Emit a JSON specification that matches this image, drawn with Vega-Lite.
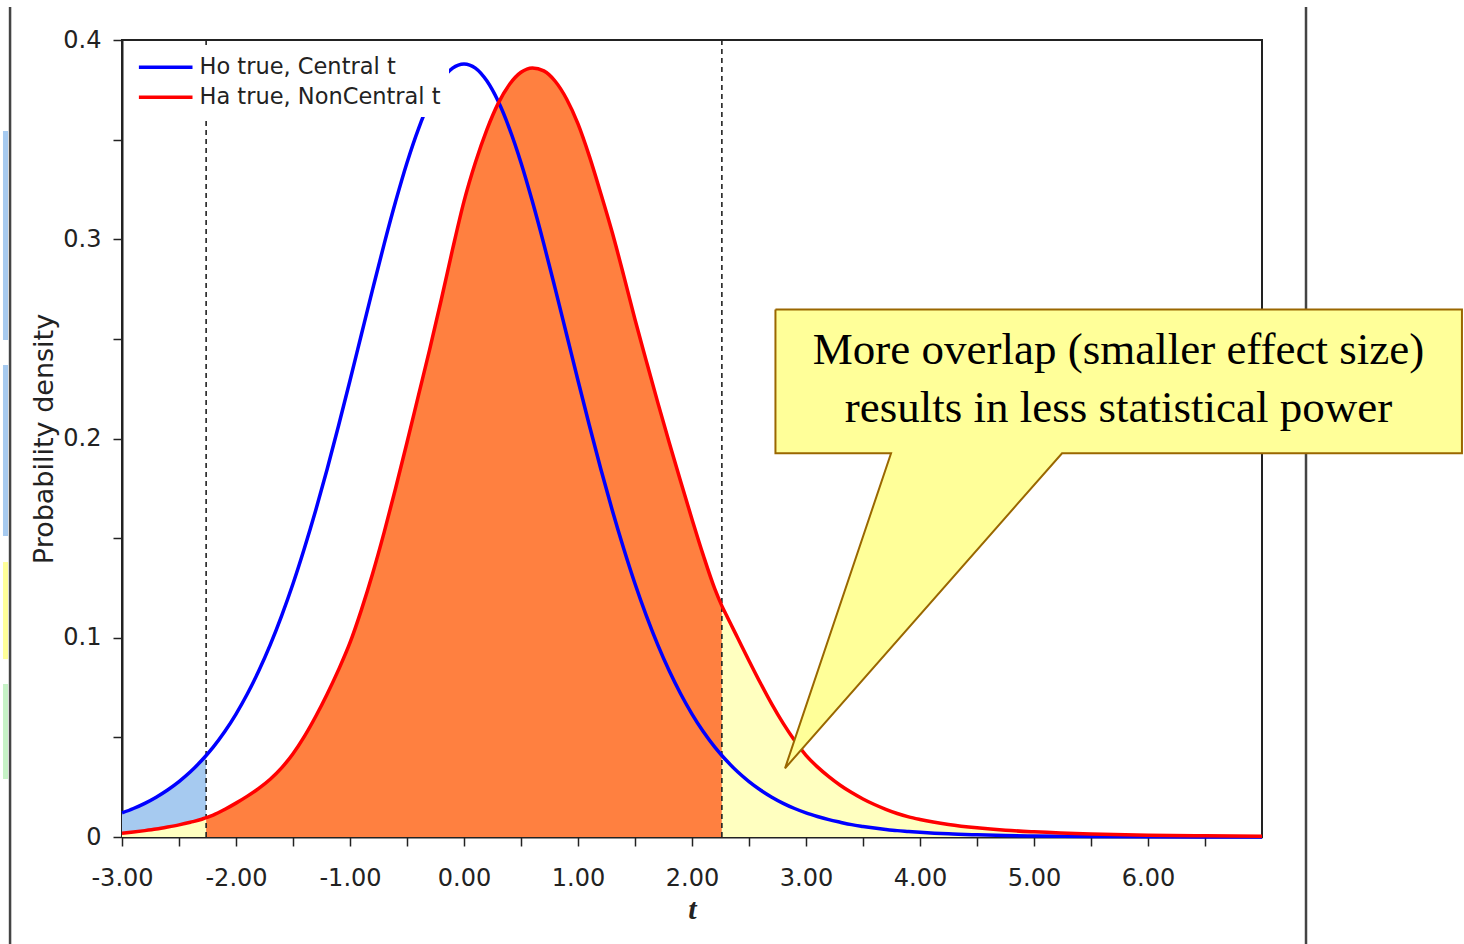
{
  "$schema": "https://vega.github.io/schema/vega-lite/v6.json",
  "width": 1140,
  "height": 797,
  "autosize": {"type": "none"},
  "padding": {"left": 122, "top": 40, "right": 202, "bottom": 107},
  "background": "#ffffff",
  "config": {
    "view": {"stroke": "#222222", "strokeWidth": 2},
    "axis": {
      "zindex": 1,
      "grid": false,
      "domainColor": "#222222",
      "domainWidth": 2,
      "tickColor": "#222222",
      "tickWidth": 1.5,
      "tickSize": 9,
      "labelFont": "DejaVu Sans",
      "labelFontSize": 24,
      "labelColor": "#222222",
      "titleColor": "#222222",
      "labelOverlap": false,
      "labelFlush": false
    }
  },
  "datasets": {
    "dens": [
      {"t": -3.0, "ho": 0.0121, "ha": 0.0019},
      {"t": -2.9, "ho": 0.0143, "ha": 0.0025},
      {"t": -2.8, "ho": 0.0169, "ha": 0.0032},
      {"t": -2.7, "ho": 0.0200, "ha": 0.0040},
      {"t": -2.6, "ho": 0.0236, "ha": 0.0050},
      {"t": -2.5, "ho": 0.0278, "ha": 0.0061},
      {"t": -2.4, "ho": 0.0327, "ha": 0.0074},
      {"t": -2.3, "ho": 0.0385, "ha": 0.0089},
      {"t": -2.262, "ho": 0.0409, "ha": 0.0097},
      {"t": -2.2, "ho": 0.0451, "ha": 0.0110},
      {"t": -2.1, "ho": 0.0528, "ha": 0.0138},
      {"t": -2.0, "ho": 0.0617, "ha": 0.0170},
      {"t": -1.9, "ho": 0.0719, "ha": 0.0205},
      {"t": -1.8, "ho": 0.0834, "ha": 0.0244},
      {"t": -1.7, "ho": 0.0964, "ha": 0.0290},
      {"t": -1.6, "ho": 0.1110, "ha": 0.0347},
      {"t": -1.5, "ho": 0.1271, "ha": 0.0418},
      {"t": -1.4, "ho": 0.1449, "ha": 0.0505},
      {"t": -1.3, "ho": 0.1641, "ha": 0.0606},
      {"t": -1.2, "ho": 0.1847, "ha": 0.0718},
      {"t": -1.1, "ho": 0.2065, "ha": 0.0840},
      {"t": -1.0, "ho": 0.2291, "ha": 0.0975},
      {"t": -0.9, "ho": 0.2522, "ha": 0.1140},
      {"t": -0.8, "ho": 0.2752, "ha": 0.1325},
      {"t": -0.7, "ho": 0.2977, "ha": 0.1530},
      {"t": -0.6, "ho": 0.3189, "ha": 0.1750},
      {"t": -0.5, "ho": 0.3384, "ha": 0.1980},
      {"t": -0.4, "ho": 0.3553, "ha": 0.2215},
      {"t": -0.3, "ho": 0.3692, "ha": 0.2450},
      {"t": -0.2, "ho": 0.3795, "ha": 0.2695},
      {"t": -0.1, "ho": 0.3859, "ha": 0.2950},
      {"t": 0.0, "ho": 0.3880, "ha": 0.3190},
      {"t": 0.1, "ho": 0.3859, "ha": 0.3385},
      {"t": 0.2, "ho": 0.3795, "ha": 0.3549},
      {"t": 0.3, "ho": 0.3692, "ha": 0.3682},
      {"t": 0.4, "ho": 0.3553, "ha": 0.3778},
      {"t": 0.5, "ho": 0.3384, "ha": 0.3838},
      {"t": 0.6, "ho": 0.3189, "ha": 0.3860},
      {"t": 0.7, "ho": 0.2977, "ha": 0.3845},
      {"t": 0.8, "ho": 0.2752, "ha": 0.3793},
      {"t": 0.9, "ho": 0.2522, "ha": 0.3704},
      {"t": 1.0, "ho": 0.2291, "ha": 0.3579},
      {"t": 1.1, "ho": 0.2065, "ha": 0.3416},
      {"t": 1.2, "ho": 0.1847, "ha": 0.3230},
      {"t": 1.3, "ho": 0.1641, "ha": 0.3035},
      {"t": 1.4, "ho": 0.1449, "ha": 0.2820},
      {"t": 1.5, "ho": 0.1271, "ha": 0.2597},
      {"t": 1.6, "ho": 0.1110, "ha": 0.2387},
      {"t": 1.7, "ho": 0.0964, "ha": 0.2180},
      {"t": 1.8, "ho": 0.0834, "ha": 0.1980},
      {"t": 1.9, "ho": 0.0719, "ha": 0.1785},
      {"t": 2.0, "ho": 0.0617, "ha": 0.1595},
      {"t": 2.1, "ho": 0.0528, "ha": 0.1412},
      {"t": 2.2, "ho": 0.0451, "ha": 0.1245},
      {"t": 2.262, "ho": 0.0409, "ha": 0.1160},
      {"t": 2.3, "ho": 0.0385, "ha": 0.1115},
      {"t": 2.4, "ho": 0.0327, "ha": 0.1000},
      {"t": 2.5, "ho": 0.0278, "ha": 0.0885},
      {"t": 2.6, "ho": 0.0236, "ha": 0.0773},
      {"t": 2.7, "ho": 0.0200, "ha": 0.0667},
      {"t": 2.8, "ho": 0.0169, "ha": 0.0570},
      {"t": 2.9, "ho": 0.0143, "ha": 0.0484},
      {"t": 3.0, "ho": 0.0121, "ha": 0.0410},
      {"t": 3.1, "ho": 0.0103, "ha": 0.0352},
      {"t": 3.2, "ho": 0.0087, "ha": 0.0303},
      {"t": 3.3, "ho": 0.0074, "ha": 0.0260},
      {"t": 3.4, "ho": 0.0062, "ha": 0.0223},
      {"t": 3.5, "ho": 0.0053, "ha": 0.0191},
      {"t": 3.6, "ho": 0.0045, "ha": 0.0163},
      {"t": 3.7, "ho": 0.0038, "ha": 0.0139},
      {"t": 3.8, "ho": 0.0032, "ha": 0.0118},
      {"t": 3.9, "ho": 0.0028, "ha": 0.0101},
      {"t": 4.0, "ho": 0.0024, "ha": 0.0088},
      {"t": 4.25, "ho": 0.0016, "ha": 0.0063},
      {"t": 4.5, "ho": 0.0011, "ha": 0.0046},
      {"t": 4.75, "ho": 0.0007, "ha": 0.0034},
      {"t": 5.0, "ho": 0.0005, "ha": 0.0026},
      {"t": 5.5, "ho": 0.00025, "ha": 0.0015},
      {"t": 6.0, "ho": 0.00012, "ha": 0.0009},
      {"t": 6.5, "ho": 0.00006, "ha": 0.0006},
      {"t": 7.0, "ho": 0.00003, "ha": 0.0004}
    ],
    "critical": [{"t": -2.262}, {"t": 2.262}],
    "callout": [
      {"i": 0, "t": 2.732, "d": 0.2648},
      {"i": 1, "t": 8.754, "d": 0.2648},
      {"i": 2, "t": 8.754, "d": 0.1926},
      {"i": 3, "t": 5.246, "d": 0.1926},
      {"i": 4, "t": 2.816, "d": 0.0345},
      {"i": 5, "t": 3.746, "d": 0.1926},
      {"i": 6, "t": 2.732, "d": 0.1926},
      {"i": 7, "t": 2.732, "d": 0.2648}
    ],
    "calloutText": [
      {"t": 5.741, "d": 0.2444, "label": "More overlap (smaller effect size)"},
      {"t": 5.741, "d": 0.2153, "label": "results in less statistical power"}
    ],
    "slideEdges": [
      {"t": -3.982, "d": -0.0537, "d2": 0.4166},
      {"t": 7.386, "d": -0.0537, "d2": 0.4166}
    ],
    "slideTabs": [
      {"t": -4.044, "t2": -4.0, "d": 0.2494, "d2": 0.3543, "tab": "a"},
      {"t": -4.044, "t2": -4.0, "d": 0.1511, "d2": 0.2369, "tab": "b"},
      {"t": -4.044, "t2": -4.0, "d": 0.0893, "d2": 0.1380, "tab": "c"},
      {"t": -4.044, "t2": -4.0, "d": 0.0291, "d2": 0.0768, "tab": "d"}
    ]
  },
  "resolve": {"scale": {"color": "independent"}},
  "layer": [
    {
      "data": {"name": "dens"},
      "transform": [{"filter": "datum.t <= -2.262"}],
      "mark": {"type": "area", "color": "#ffffc0", "interpolate": "monotone"},
      "encoding": {
        "x": {
          "field": "t", "type": "quantitative",
          "scale": {"domain": [-3, 7], "nice": false, "zero": false},
          "axis": {
            "title": "t",
            "titleFont": "Liberation Serif",
            "titleFontStyle": "italic",
            "titleFontWeight": "bold",
            "titleFontSize": 30,
            "titlePadding": 4,
            "values": [-3, -2.5, -2, -1.5, -1, -0.5, 0, 0.5, 1, 1.5, 2, 2.5, 3, 3.5, 4, 4.5, 5, 5.5, 6, 6.5],
            "labelExpr": "datum.value % 1 == 0 ? replace(format(datum.value, '.2f'), '\u2212', '-') : ''",
            "labelPadding": 20
          }
        },
        "y": {
          "field": "ha", "type": "quantitative",
          "scale": {"domain": [0, 0.4], "nice": false},
          "axis": {
            "title": "Probability density",
            "titleFont": "DejaVu Sans",
            "titleFontSize": 27,
            "titleFontWeight": "normal",
            "titlePadding": 4,
            "values": [0, 0.05, 0.1, 0.15, 0.2, 0.25, 0.3, 0.35, 0.4],
            "labelExpr": "datum.value == 0 ? '0' : (round(datum.value * 100) % 10 == 0 ? format(datum.value, '.1f') : '')",
            "labelPadding": 12
          }
        }
      }
    },
    {
      "data": {"name": "slideEdges"},
      "mark": {"type": "rule", "color": "#444444", "strokeWidth": 2.5},
      "encoding": {
        "x": {"field": "t", "type": "quantitative", "scale": {"domain": [-3, 7]}},
        "y": {"field": "d", "type": "quantitative", "scale": {"domain": [0, 0.4]}},
        "y2": {"field": "d2"}
      }
    },
    {
      "data": {"name": "slideTabs"},
      "mark": {"type": "rect"},
      "encoding": {
        "x": {"field": "t", "type": "quantitative", "scale": {"domain": [-3, 7]}},
        "x2": {"field": "t2"},
        "y": {"field": "d", "type": "quantitative", "scale": {"domain": [0, 0.4]}},
        "y2": {"field": "d2"},
        "color": {
          "field": "tab", "type": "nominal", "legend": null,
          "scale": {"domain": ["a", "b", "c", "d"], "range": ["#a6caf0", "#a6caf0", "#ffff99", "#c6f2c6"]}
        }
      }
    },
    {
      "data": {"name": "dens"},
      "transform": [{"filter": "datum.t <= -2.262"}],
      "mark": {"type": "area", "color": "#a6caf0", "interpolate": "monotone"},
      "encoding": {
        "x": {"field": "t", "type": "quantitative", "scale": {"domain": [-3, 7]}},
        "y": {"field": "ho", "type": "quantitative", "scale": {"domain": [0, 0.4]}},
        "y2": {"field": "ha"}
      }
    },
    {
      "data": {"name": "dens"},
      "transform": [{"filter": "datum.t >= -2.262 && datum.t <= 2.262"}],
      "mark": {"type": "area", "color": "#ff8040", "interpolate": "monotone"},
      "encoding": {
        "x": {"field": "t", "type": "quantitative", "scale": {"domain": [-3, 7]}},
        "y": {"field": "ha", "type": "quantitative", "scale": {"domain": [0, 0.4]}}
      }
    },
    {
      "data": {"name": "dens"},
      "transform": [{"filter": "datum.t >= 2.262"}],
      "mark": {"type": "area", "color": "#ffffc0", "interpolate": "monotone"},
      "encoding": {
        "x": {"field": "t", "type": "quantitative", "scale": {"domain": [-3, 7]}},
        "y": {"field": "ha", "type": "quantitative", "scale": {"domain": [0, 0.4]}}
      }
    },
    {
      "data": {"name": "critical"},
      "mark": {"type": "rule", "color": "#222222", "strokeWidth": 1.6, "strokeDash": [5, 4]},
      "encoding": {
        "x": {"field": "t", "type": "quantitative", "scale": {"domain": [-3, 7]}}
      }
    },
    {
      "data": {"name": "dens"},
      "transform": [{"fold": ["ho", "ha"], "as": ["key", "value"]}],
      "mark": {"type": "line", "strokeWidth": 3.5, "interpolate": "monotone"},
      "encoding": {
        "x": {"field": "t", "type": "quantitative", "scale": {"domain": [-3, 7]}},
        "y": {"field": "value", "type": "quantitative", "scale": {"domain": [0, 0.4]}},
        "color": {
          "field": "key", "type": "nominal",
          "scale": {"domain": ["ho", "ha"], "range": ["#0000ff", "#ff0000"]},
          "legend": {
            "orient": "none",
            "legendX": 3,
            "legendY": 8,
            "title": null,
            "direction": "vertical",
            "fillColor": "#ffffff",
            "padding": 8,
            "symbolType": "M-1,0H9",
            "symbolSize": 115,
            "symbolStrokeWidth": 3.5,
            "labelOffset": 44,
            "labelFont": "DejaVu Sans",
            "labelFontSize": 22.5,
            "labelColor": "#222222",
            "labelLimit": 400,
            "rowPadding": 7,
            "labelExpr": "datum.label == 'ho' ? 'Ho true, Central t' : 'Ha true, NonCentral t'"
          }
        }
      }
    },
    {
      "data": {"name": "callout"},
      "mark": {"type": "line", "fill": "#ffff99", "stroke": "#9a6700", "strokeWidth": 2, "strokeJoin": "miter"},
      "encoding": {
        "x": {"field": "t", "type": "quantitative", "scale": {"domain": [-3, 7]}},
        "y": {"field": "d", "type": "quantitative", "scale": {"domain": [0, 0.4]}},
        "order": {"field": "i"}
      }
    },
    {
      "data": {"name": "calloutText"},
      "mark": {"type": "text", "font": "Liberation Serif", "fontSize": 45, "color": "#000000", "align": "center", "baseline": "middle"},
      "encoding": {
        "x": {"field": "t", "type": "quantitative", "scale": {"domain": [-3, 7]}},
        "y": {"field": "d", "type": "quantitative", "scale": {"domain": [0, 0.4]}},
        "text": {"field": "label"}
      }
    }
  ]
}
